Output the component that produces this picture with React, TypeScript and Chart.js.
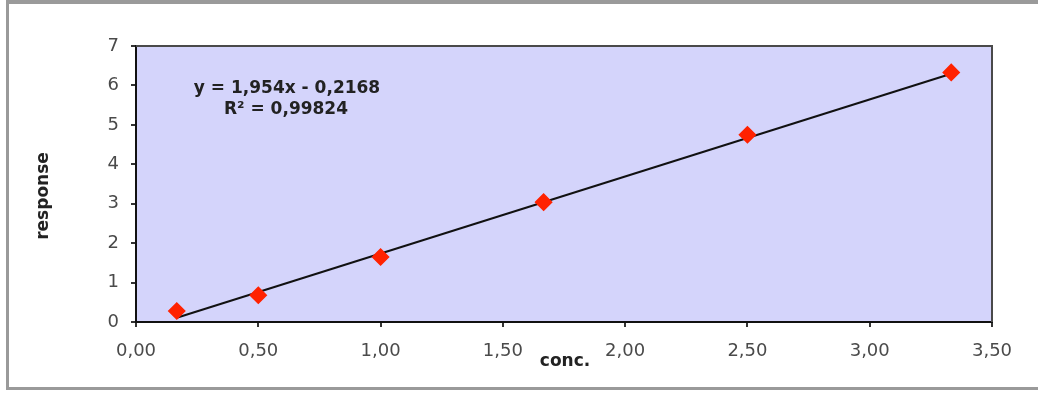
import React, { useEffect, useRef } from "react";
import { Chart, registerables } from "chart.js";

Chart.register(...registerables);

const concValues = [0.1667, 0.5, 1.0, 1.6667, 2.5, 3.3333];
const responseValues = [0.28, 0.68, 1.65, 3.04, 4.75, 6.33];
const trendX = [0.1667, 3.3333];
const trendY = [0.109, 6.296];
const xTitle = "conc.";
const yTitle = "response";
const equationLines = ["y = 1,954x - 0,2168", "R² = 0,99824"];

const FONT = "'DejaVu Sans', 'Liberation Sans', Arial, sans-serif";

const decorPlugin = {
  id: "decor",
  beforeDraw(chart: any) {
    const { ctx, chartArea } = chart;
    ctx.save();
    ctx.fillStyle = "#D4D4FB";
    ctx.fillRect(chartArea.left, chartArea.top, chartArea.right - chartArea.left, chartArea.bottom - chartArea.top);
    ctx.restore();
  },
  afterDraw(chart: any) {
    const { ctx, chartArea } = chart;
    ctx.save();
    ctx.strokeStyle = "#4a4a4a";
    ctx.lineWidth = 2;
    ctx.beginPath();
    ctx.moveTo(chartArea.left, chartArea.top);
    ctx.lineTo(chartArea.right, chartArea.top);
    ctx.lineTo(chartArea.right, chartArea.bottom);
    ctx.stroke();

    ctx.fillStyle = "#222";
    ctx.textAlign = "center";
    ctx.textBaseline = "middle";
    ctx.font = `bold 17px ${FONT}`;
    ctx.fillText(equationLines[0], 287, 89);
    ctx.fillText(equationLines[1], 286, 110);

    ctx.fillText(xTitle, 565, 362);

    ctx.translate(44, 196);
    ctx.rotate(-Math.PI / 2);
    ctx.fillText(yTitle, 0, 0);
    ctx.restore();
  },
};

export default function App() {
  const ref = useRef<HTMLCanvasElement | null>(null);

  useEffect(() => {
    if (!ref.current) return;
    const chart = new Chart(ref.current, {
      type: "scatter",
      data: {
        datasets: [
          {
            type: "scatter",
            label: "data",
            data: concValues.map((x, i) => ({ x, y: responseValues[i] })),
            pointStyle: "rectRot",
            pointRadius: 8,
            pointHoverRadius: 8,
            backgroundColor: "#FF2200",
            borderColor: "#FF2200",
            borderWidth: 1.5,
            order: 0,
          },
          {
            type: "line",
            label: "trend",
            data: trendX.map((x, i) => ({ x, y: trendY[i] })),
            borderColor: "#111",
            borderWidth: 2,
            pointRadius: 0,
            fill: false,
            order: 1,
          } as any,
        ],
      },
      options: {
        animation: false,
        responsive: true,
        maintainAspectRatio: false,
        layout: { padding: { left: 0, top: 46, right: 46, bottom: 0 } },
        plugins: {
          legend: { display: false },
          tooltip: { enabled: false },
          title: { display: false },
        },
        scales: {
          x: {
            type: "linear",
            min: 0,
            max: 3.5,
            afterFit: (scale: any) => {
              scale.height = 72;
            },
            ticks: {
              stepSize: 0.5,
              padding: 14,
              color: "#4a4a4a",
              font: { family: FONT, size: 18 },
              maxRotation: 0,
              callback: (v: any) => Number(v).toFixed(2).replace(".", ","),
            },
            grid: { drawOnChartArea: false, drawTicks: true, tickLength: 5, color: "#333", lineWidth: 2 },
            border: { display: true, color: "#111", width: 2 },
          },
          y: {
            type: "linear",
            min: 0,
            max: 7,
            afterFit: (scale: any) => {
              scale.width = 136;
            },
            ticks: {
              stepSize: 1,
              padding: 12,
              color: "#4a4a4a",
              font: { family: FONT, size: 18 },
            },
            grid: { drawOnChartArea: false, drawTicks: true, tickLength: 5, color: "#333", lineWidth: 2 },
            border: { display: true, color: "#111", width: 2 },
          },
        },
      },
      plugins: [decorPlugin],
    });
    return () => chart.destroy();
  }, []);

  return (
    <div
      style={{
        position: "absolute",
        left: 0,
        top: 0,
        width: 1038,
        height: 394,
        overflow: "hidden",
        background: "#fff",
      }}
    >
      <div
        style={{
          position: "absolute",
          left: 6,
          top: 0,
          width: 1100,
          height: 390,
          boxSizing: "border-box",
          borderTop: "4px solid #9a9a9a",
          borderLeft: "3px solid #9a9a9a",
          borderBottom: "3px solid #9a9a9a",
        }}
      />
      <canvas ref={ref} style={{ position: "absolute", left: 0, top: 0 }} />
    </div>
  );
}
